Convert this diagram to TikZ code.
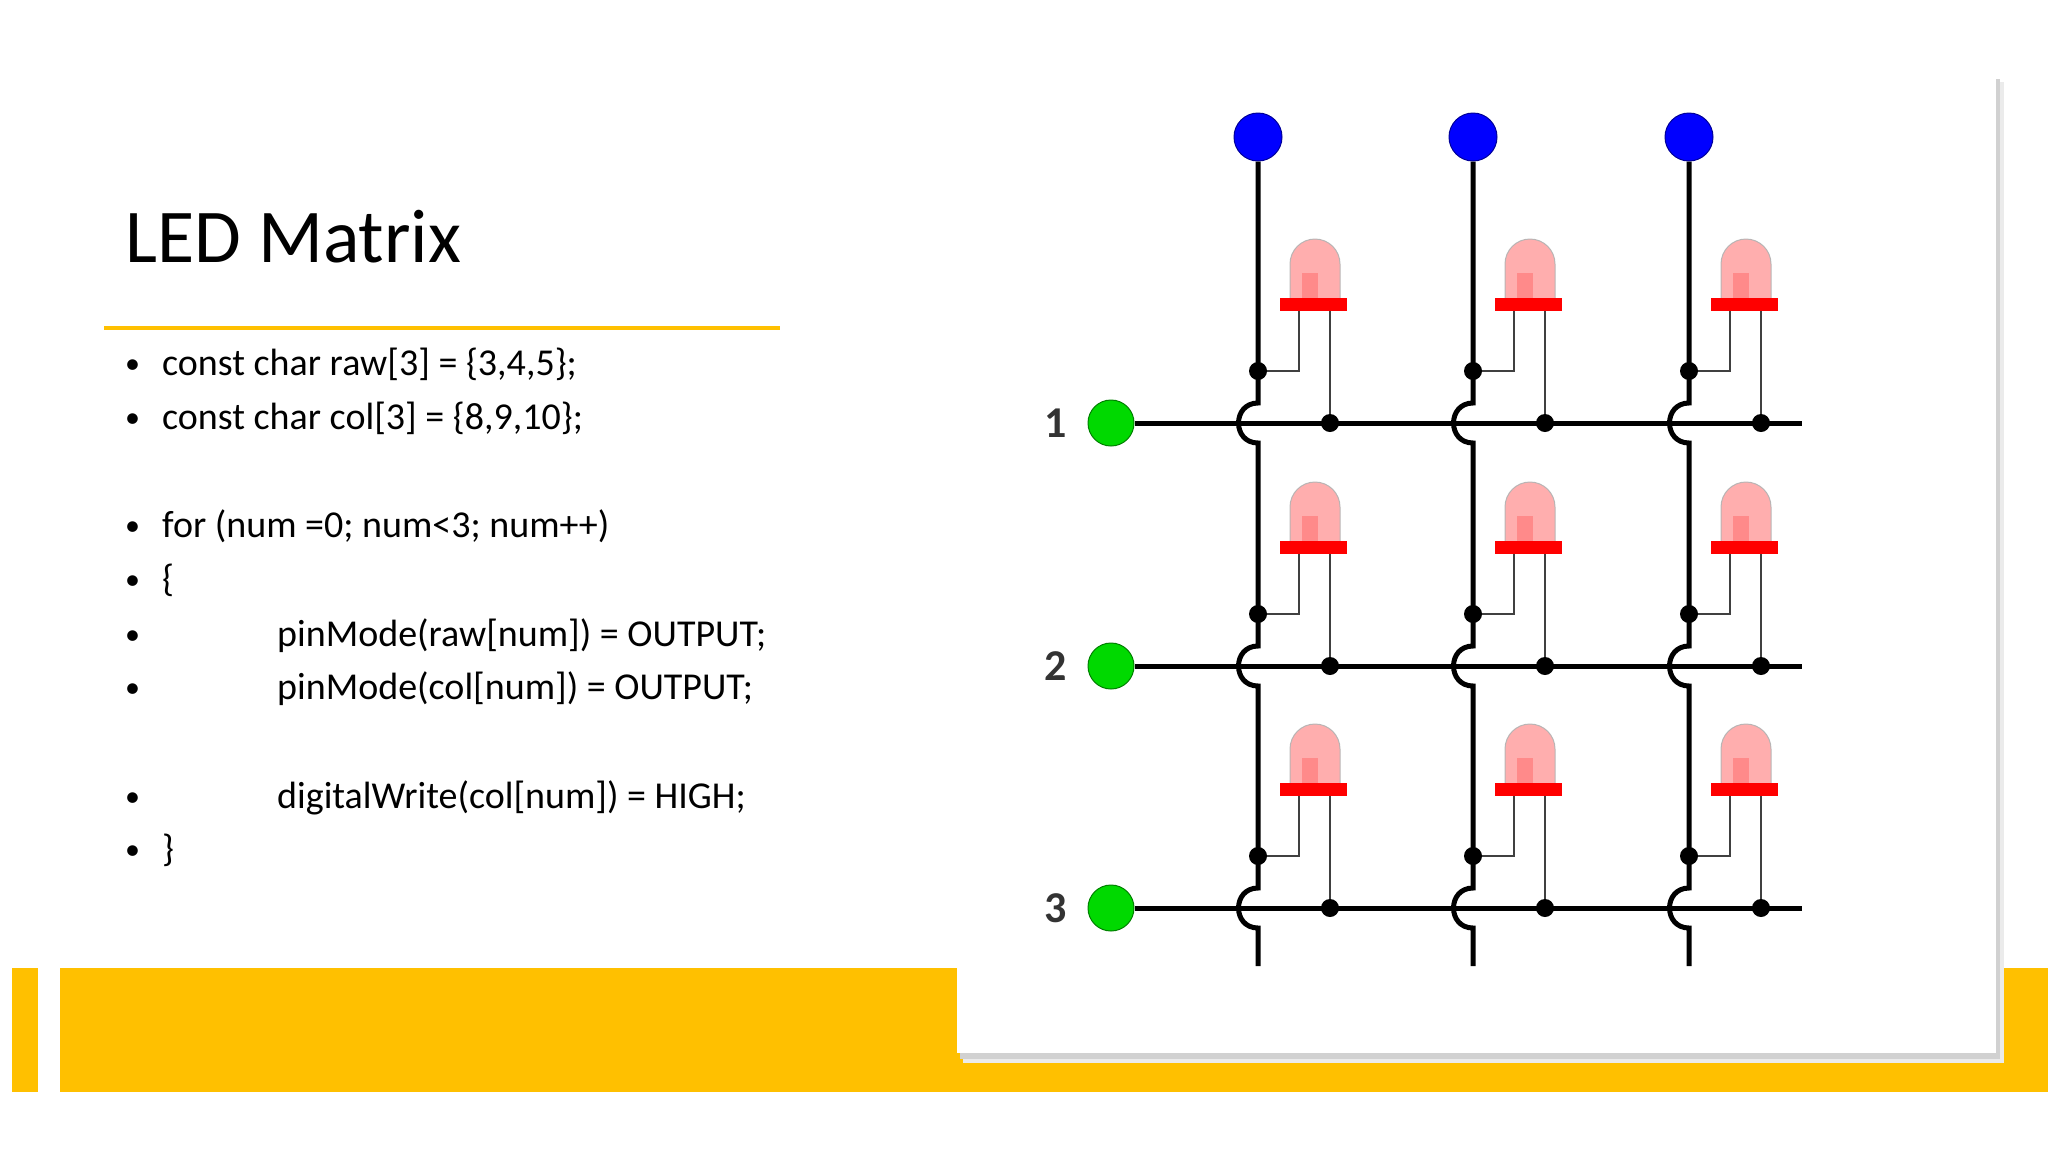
\documentclass[tikz,border=0pt]{standalone}
\usepackage{fontspec}
\setmainfont{Carlito}
\definecolor{gold}{HTML}{FFC000}
\begin{document}
\begin{tikzpicture}[x=1pt,y=-1pt,
  wire/.style={line width=5pt,black},
  leg/.style={line width=2.5pt,black!75},
  jdot/.style={circle,fill=black,inner sep=0pt,minimum size=18pt},
  bullet/.style={anchor=base west,font=\fontsize{38}{44}\selectfont},
  pinB/.style={circle,fill=blue,draw=blue!60!black,line width=1pt,minimum size=48pt,inner sep=0pt},
  pinG/.style={circle,fill=green!85!black,draw=green!50!black,line width=1pt,minimum size=46pt,inner sep=0pt},
  lbl/.style={font=\fontsize{44}{44}\selectfont\bfseries,text=black!80}]
\useasboundingbox (0,0) rectangle (2048,1152);
\fill[white] (0,0) rectangle (2048,1152);
% bottom band
\fill[gold] (60,968) rectangle (2048,1092);
\fill[gold] (12,968) rectangle (38,1092);
% title
\node[anchor=base west,font=\fontsize{76}{84}\selectfont,inner sep=0pt] (title) at (125,262) {LED Matrix};
\draw[gold,line width=4pt] (104,328) -- (780,328);
% bullets
\foreach \y/\t/\ind in {375/{const char raw[3] = \{3,4,5\};}/0,
  429/{const char col[3] = \{8,9,10\};}/0,
  537/{for (num =0; num<3; num++)}/0,
  591/{\{}/0,
  646/{pinMode(raw[num]) = OUTPUT;}/1,
  699/{pinMode(col[num]) = OUTPUT;}/1,
  808/{digitalWrite(col[num]) = HIGH;}/1,
  861/{\}}/0}{
  \node[anchor=base west,inner sep=0pt,font=\fontsize{30}{30}\selectfont] at (125,{\y-2}) {•};
  \node[bullet,inner sep=0pt] at ({162+115*\ind},\y) {\t};
}
% panel
\fill[black!8] (963,82) rectangle (2004,1063);
\fill[black!18] (960,79) rectangle (2000,1059);
\fill[white] (957,76) rectangle (1996,1053);
% horizontal wires
\foreach \r/\H in {1/423,2/666,3/908}{
  \node[lbl] (L\r) at (1056,\H) {\r};
  \node[pinG] (G\r) at (1111,\H) {};
  \coordinate (E\r) at (1802,\H);
  \draw[wire] (G\r.east) -- (E\r);
}
% verticals
\foreach \c/\V in {1/1258,2/1473,3/1689}{
  \node[pinB] (B\c) at (\V,137) {};
  \draw[wire] (B\c.south)
    \foreach \H in {423,666,908}{ -- (\V,{\H-20}) .. controls ({\V-26},{\H-20}) and ({\V-26},{\H+20}) .. (\V,{\H+20}) }
    -- (\V,966);
  \foreach \H in {423,666,908}{
    % LED
    \fill[red!35,draw=black!30,line width=1pt,opacity=0.9] ({\V+32},{\H-115}) -- ({\V+32},{\H-159}) arc[start angle=180,end angle=0,radius=25pt] -- ({\V+82},{\H-115}) -- cycle;
    \fill[red!55,opacity=0.6] ({\V+44},{\H-118}) rectangle ({\V+60},{\H-150});
    \fill[red] ({\V+22},{\H-125}) rectangle ({\V+89},{\H-112});
    \draw[leg] ({\V+41},{\H-112}) -- ({\V+41},{\H-52}) -- (\V,{\H-52});
    \draw[leg] ({\V+72},{\H-112}) -- ({\V+72},\H);
    \node[jdot] at (\V,{\H-52}) {};
    \node[jdot] at ({\V+72},\H) {};
  }
}
\end{tikzpicture}
\end{document}
